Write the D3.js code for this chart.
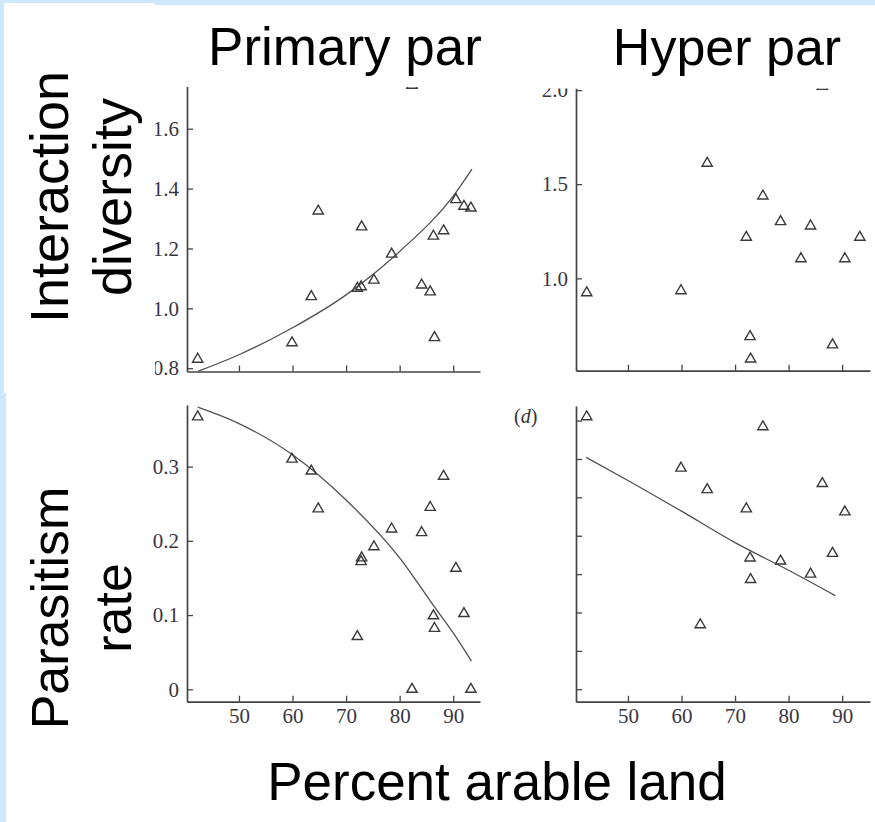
<!DOCTYPE html>
<html>
<head>
<meta charset="utf-8">
<script src="https://cdn.jsdelivr.net/npm/d3@7"></script>
<style>
  html, body { margin: 0; padding: 0; background: #ffffff; }
  svg { display: block; }
</style>
</head>
<body>
<svg id="chart" width="875" height="822"></svg>
<script>
// Percent arable land around each site (shared by all four panels)
const arable = [42.3, 59.9, 63.5, 64.8, 72.1, 72.8, 72.9, 75.2, 78.5, 82.3, 84.1, 85.7, 86.3, 86.5, 88.2, 90.5, 92.0, 93.3];

// Interaction diversity, primary parasitoids
const primaryDiversity = [0.830, 0.885, 1.039, 1.325, 1.067, 1.072, 1.272, 1.094, 1.181, 1.745, 1.078, 1.055, 1.241, 0.902, 1.259, 1.363, 1.341, 1.335];
// Interaction diversity, hyperparasitoids (null = no hyperparasitoids recorded)
const hyperDiversity = [0.923, 0.934, null, 1.611, 1.218, 0.690, 0.571, 1.437, 1.301, 1.104, 1.278, null, 2.020, null, 0.646, 1.104, null, 1.218];
// Parasitism rate, primary parasitoids
const primaryParasitism = [0.367, 0.310, 0.294, 0.243, 0.071, 0.172, 0.177, 0.192, 0.216, 0.000, 0.211, 0.245, 0.099, 0.082, 0.287, 0.163, 0.102, 0.000];
// Parasitism rate, hyperparasitoids
const hyperParasitism = [0.355, 0.288, 0.084, 0.260, 0.235, 0.171, 0.143, 0.342, 0.167, null, 0.150, null, 0.268, null, 0.177, 0.231, null, null];

// Fitted regression curves
const primaryDiversityFit = [[42.4, 0.790], [50, 0.845], [60, 0.935], [70, 1.045], [80, 1.190], [90, 1.375], [93.5, 1.465]];
const primaryParasitismFit = [[42.3, 0.380], [50, 0.358], [60, 0.316], [70, 0.255], [80, 0.177], [86.3, 0.113], [90, 0.076], [93.4, 0.038]];
const hyperParasitismFit = [[42.2, 0.302], [50, 0.272], [60, 0.232], [70, 0.191], [80, 0.155], [88.7, 0.122]];

// Tick values
const xTicks = [50, 60, 70, 80, 90];
const primaryDiversityTicks = [0.8, 1.0, 1.2, 1.4, 1.6];
const hyperDiversityTicks = [1.0, 1.5, 2.0];
const primaryParasitismTicks = [0, 0.1, 0.2, 0.3];
const hyperParasitismTicks = [0, 0.05, 0.10, 0.15, 0.20, 0.25, 0.30, 0.35];

// Text
const columnTitles = ["Primary par", "Hyper par"];
const rowTitles = [["Interaction", "diversity"], ["Parasitism", "rate"]];
const xTitle = "Percent arable land";
const panelTag = "d";

const svg = d3.select("#chart");

// slide background
svg.append("rect").attr("width", 875).attr("height", 822).attr("fill", "#cde9fb");
svg.append("rect").attr("x", 4).attr("y", 3).attr("width", 151).attr("height", 390).attr("fill", "#fff");
svg.append("rect").attr("x", 4).attr("y", 5).attr("width", 871).attr("height", 388).attr("fill", "#fff");
svg.append("rect").attr("x", 6).attr("y", 391).attr("width", 869).attr("height", 431).attr("fill", "#fff");

const defs = svg.append("defs");

const panels = [
  { id: "a", values: primaryDiversity, fit: primaryDiversityFit,
    xRange: [187, 480], xDomain: [40.3, 95.0],
    yDomain: [0.789, 1.741], yRange: [371.5, 86.5],
    yTicks: primaryDiversityTicks, yFormat: d3.format(".1f"), xLabels: false,
    clip: [155, 87, 340, 300] },
  { id: "b", values: hyperDiversity, fit: null,
    xRange: [576, 870], xDomain: [40.3, 95.2],
    yDomain: [0.509, 2.011], yRange: [370.7, 88],
    yTicks: hyperDiversityTicks, yFormat: d3.format(".1f"), xLabels: false,
    clip: [495, 88.5, 380, 300] },
  { id: "c", values: primaryParasitism, fit: primaryParasitismFit,
    xRange: [187, 480], xDomain: [40.3, 95.0],
    yDomain: [-0.0167, 0.383], yRange: [701.7, 405],
    yTicks: primaryParasitismTicks, yFormat: d => d === 0 ? "0" : d3.format(".1f")(d), xLabels: true,
    clip: [140, 396, 355, 345] },
  { id: "d", values: hyperParasitism, fit: hyperParasitismFit,
    xRange: [576, 870], xDomain: [40.3, 95.2],
    yDomain: [-0.0162, 0.369], yRange: [701.7, 406],
    yTicks: hyperParasitismTicks, yFormat: () => "", xLabels: true,
    clip: [495, 396, 380, 345] }
];

const axisColor = "#444";
const serif = "'Liberation Serif', 'Times New Roman', serif";
const sans = "'Liberation Sans', Arial, Helvetica, sans-serif";

panels.forEach(p => {
  defs.append("clipPath").attr("id", "clip-" + p.id)
    .append("rect")
    .attr("x", p.clip[0]).attr("y", p.clip[1])
    .attr("width", p.clip[2]).attr("height", p.clip[3]);

  const g = svg.append("g").attr("clip-path", "url(#clip-" + p.id + ")");
  const x = d3.scaleLinear().domain(p.xDomain).range(p.xRange);
  const y = d3.scaleLinear().domain(p.yDomain).range(p.yRange);

  const xAxis = d3.axisBottom(x).tickValues(xTicks)
    .tickSizeInner(-6).tickSizeOuter(0).tickPadding(6)
    .tickFormat(p.xLabels ? d3.format("d") : () => "");
  const yAxis = d3.axisLeft(y).tickValues(p.yTicks)
    .tickSizeInner(-6).tickSizeOuter(0).tickPadding(8)
    .tickFormat(p.yFormat);

  const gx = g.append("g").attr("transform", `translate(0,${p.yRange[0]})`).call(xAxis);
  const gy = g.append("g").attr("transform", `translate(${p.xRange[0]},0)`).call(yAxis);
  [gx, gy].forEach(a => {
    a.select(".domain").attr("stroke", axisColor).attr("stroke-width", 1.7);
    a.selectAll(".tick line").attr("stroke", axisColor).attr("stroke-width", 1.3);
    a.selectAll(".tick text").attr("fill", "#3a3640")
      .style("font-family", serif).style("font-size", "21px");
  });

  if (p.fit) {
    g.append("path")
      .datum(p.fit)
      .attr("fill", "none")
      .attr("stroke", "#505050")
      .attr("stroke-width", 1.3)
      .attr("d", d3.line().x(d => x(d[0])).y(d => y(d[1])).curve(d3.curveMonotoneX));
  }

  const pts = arable.map((a, i) => ({ a, v: p.values[i] })).filter(d => d.v !== null);
  g.selectAll("path.pt")
    .data(pts)
    .join("path")
    .attr("class", "pt")
    .attr("transform", d => `translate(${x(d.a)},${y(d.v)})`)
    .attr("d", d3.symbol(d3.symbolTriangle, 46))
    .attr("fill", "none")
    .attr("stroke", "#3a3a3a")
    .attr("stroke-width", 1.4);
});

// panel tag
svg.append("text")
  .attr("x", 514).attr("y", 423)
  .style("font-family", serif).style("font-size", "20px").attr("fill", "#333")
  .call(t => {
    t.append("tspan").text("(");
    t.append("tspan").style("font-style", "italic").text(panelTag);
    t.append("tspan").text(")");
  });

// column titles
svg.append("text").attr("x", 345).attr("y", 65).attr("text-anchor", "middle")
  .style("font-family", sans).style("font-size", "53px").attr("fill", "#000")
  .text(columnTitles[0]);
svg.append("text").attr("x", 727).attr("y", 65).attr("text-anchor", "middle")
  .style("font-family", sans).style("font-size", "52px").attr("fill", "#000")
  .text(columnTitles[1]);

// row titles (rotated, two lines each)
const rowCenters = [197, 608];
const rowSizes = [54, 52];
rowTitles.forEach((lines, r) => {
  const baselines = [68, 131];
  lines.forEach((line, k) => {
    svg.append("text")
      .attr("transform", `translate(${baselines[k]},${rowCenters[r]}) rotate(-90)`)
      .attr("text-anchor", "middle")
      .style("font-family", sans).style("font-size", rowSizes[r] + "px").attr("fill", "#000")
      .text(line);
  });
});

// shared x title
svg.append("text").attr("x", 497).attr("y", 800).attr("text-anchor", "middle")
  .style("font-family", sans).style("font-size", "53px").attr("fill", "#000")
  .text(xTitle);
</script>
</body>
</html>
